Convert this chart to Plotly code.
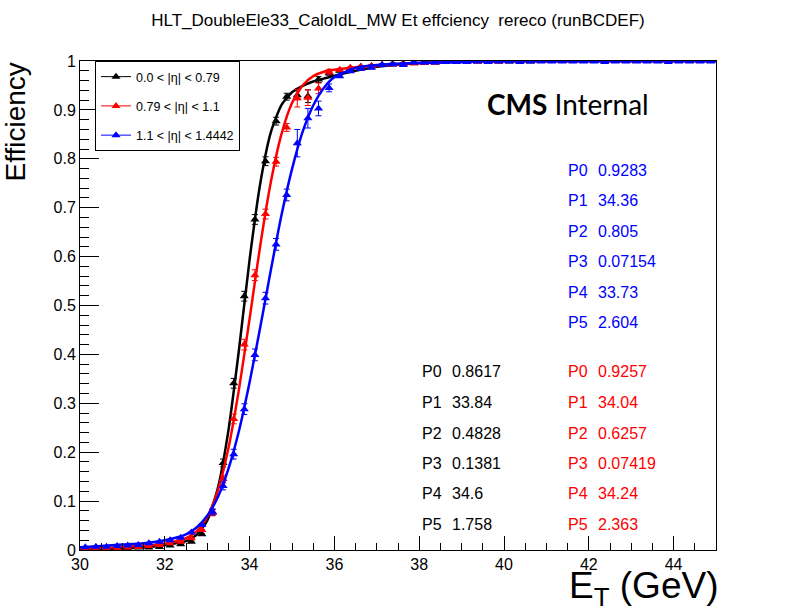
import plotly.graph_objects as go

# ---- data ----
et_bins = [30.125, 30.375, 30.625, 30.875, 31.125, 31.375, 31.625, 31.875,
           32.125, 32.375, 32.625, 32.875, 33.125, 33.375, 33.625, 33.875,
           34.125, 34.375, 34.625, 34.875, 35.125, 35.375, 35.625, 35.875,
           36.125, 36.375, 36.625, 36.875, 37.125, 37.375, 37.625, 37.875,
           38.125, 38.375, 38.625, 38.875, 39.125, 39.375, 39.625, 39.875,
           40.125, 40.375, 40.625, 40.875, 41.125, 41.375, 41.625, 41.875,
           42.125, 42.375, 42.625, 42.875, 43.125, 43.375, 43.625, 43.875,
           44.125, 44.375, 44.625, 44.875]

eff_barrel = [0.000, 0.000, 0.0014, 0.002, 0.0035, 0.005, 0.005, 0.006, 0.009, 0.012, 0.017, 0.032,
              0.077, 0.178, 0.341, 0.519, 0.676, 0.795, 0.877, 0.927, 0.930, 0.928, 0.962, 0.975,
              0.980, 0.985, 0.988, 0.990, 0.992, 0.994, 0.995, 0.996, 0.997, 0.997, 0.998, 0.998,
              0.999, 0.999, 0.999, 0.999, 0.999, 1.0, 0.999, 1.0, 1.0, 1.0, 1.0, 1.0,
              1.0, 1.0, 1.0, 1.0, 1.0, 1.0, 1.0, 1.0, 1.0, 1.0, 1.0, 1.0]
err_barrel = [0.001] * 12 + [0.006, 0.008, 0.010, 0.010, 0.010, 0.009, 0.008, 0.007, 0.009, 0.013, 0.006, 0.004] + [0.002] * 36

eff_mid = [0.0014, 0.0014, 0.0035, 0.0035, 0.005, 0.006, 0.008, 0.010, 0.014, 0.017, 0.024, 0.041,
           0.076, 0.145, 0.268, 0.420, 0.562, 0.687, 0.794, 0.864, 0.924, 0.925, 0.944, 0.978,
           0.982, 0.986, 0.988, 0.990, 0.992, 0.993, 0.994, 0.995, 0.996, 0.997, 0.998, 0.998,
           0.999, 0.999, 0.999, 0.999, 1.0, 0.999, 1.0, 1.0, 1.0, 1.0, 1.0, 1.0,
           1.0, 1.0, 1.0, 1.0, 1.0, 1.0, 1.0, 1.0, 1.0, 1.0, 1.0, 1.0]
err_mid = [0.001] * 12 + [0.006, 0.008, 0.010, 0.011, 0.011, 0.010, 0.009, 0.008, 0.018, 0.016, 0.011, 0.005] + [0.002] * 36

eff_outer = [0.0055, 0.0067, 0.0067, 0.008, 0.009, 0.010, 0.014, 0.017, 0.020, 0.025, 0.036, 0.051,
             0.078, 0.131, 0.196, 0.288, 0.399, 0.515, 0.625, 0.726, 0.832, 0.883, 0.903, 0.945,
             0.969, 0.979, 0.984, 0.986, 0.992, 0.993, 0.992, 0.997, 0.997, 0.997, 0.998, 0.998,
             0.998, 0.999, 0.998, 0.999, 0.999, 0.998, 0.999, 0.999, 0.999, 0.999, 0.999, 0.999,
             0.999, 0.998, 0.999, 0.999, 0.999, 0.999, 0.999, 0.998, 0.999, 0.999, 0.999, 0.999]
err_outer = [0.001] * 12 + [0.006, 0.008, 0.010, 0.011, 0.012, 0.012, 0.012, 0.012, 0.028, 0.020, 0.015, 0.008] + [0.002] * 36

# fitted turn-on curves, read at these E_T values
fit_et = [30, 30.5, 31, 31.5, 32, 32.5, 32.75, 33, 33.25, 33.5, 33.75, 34, 34.25, 34.5,
          34.75, 35, 35.25, 35.5, 35.75, 36, 36.5, 37, 37.5, 38, 39, 40, 42, 45]
fit_barrel = [0.001, 0.0014, 0.003, 0.005, 0.010, 0.018, 0.031, 0.060, 0.126, 0.244, 0.410, 0.594,
              0.749, 0.854, 0.910, 0.936, 0.949, 0.958, 0.964, 0.970, 0.980, 0.988, 0.993, 0.996,
              0.999, 0.9997, 0.9998, 0.9998]
fit_mid = [0.003, 0.004, 0.006, 0.009, 0.013, 0.024, 0.038, 0.067, 0.121, 0.208, 0.329, 0.473,
           0.622, 0.752, 0.850, 0.914, 0.950, 0.969, 0.978, 0.982, 0.987, 0.991, 0.9937, 0.9957,
           0.9983, 0.9993, 0.9998, 0.9999]
fit_outer = [0.0055, 0.008, 0.011, 0.014, 0.020, 0.032, 0.046, 0.070, 0.108, 0.166, 0.244, 0.343,
             0.455, 0.572, 0.684, 0.779, 0.855, 0.909, 0.945, 0.967, 0.986, 0.992, 0.9945, 0.996,
             0.998, 0.9993, 0.9997, 0.9998]

labels = ["0.0 < |\u03b7| < 0.79", "0.79 < |\u03b7| < 1.1", "1.1 < |\u03b7| < 1.4442"]
colors = ["#000000", "#ff0000", "#0000ff"]

par_names = ["P0", "P1", "P2", "P3", "P4", "P5"]
par_barrel = ["0.8617", "33.84", "0.4828", "0.1381", "34.6", "1.758"]
par_mid = ["0.9257", "34.04", "0.6257", "0.07419", "34.24", "2.363"]
par_outer = ["0.9283", "34.36", "0.805", "0.07154", "33.73", "2.604"]


# pixel -> paper helpers (plot frame is 80..716 x 61..550)
def px(x):
    return (x - 80) / 636.0


def py(y):
    return (550 - y) / 489.0


fig = go.Figure()

series = [(eff_barrel, err_barrel, fit_barrel),
          (eff_mid, err_mid, fit_mid),
          (eff_outer, err_outer, fit_outer)]

for i, (eff, err, fit) in enumerate(series):
    fig.add_trace(go.Scatter(
        x=et_bins, y=eff, mode="markers",
        marker=dict(symbol="triangle-up", size=8, color=colors[i]),
        error_y=dict(type="data", array=err, color=colors[i], thickness=1, width=3),
        showlegend=False, cliponaxis=True))
    fig.add_trace(go.Scatter(
        x=fit_et, y=fit, mode="lines",
        line=dict(color=colors[i], width=2.5, shape="spline", smoothing=0.6),
        showlegend=False, hoverinfo="skip"))

# legend entries
for i in range(3):
    fig.add_trace(go.Scatter(
        x=[None], y=[None], mode="lines+markers", name=labels[i],
        legendgroup="g%d" % i,
        line=dict(color=colors[i], width=1),
        marker=dict(symbol="triangle-up", size=8, color=colors[i])))

annotations = []
# fit parameter boxes
rows_top = [170, 200, 231, 261, 292, 322]
rows_bot = [371, 402, 433, 463, 493, 524]
for k in range(6):
    for name_x, val_x, y, val, col in [(420, 450, rows_bot[k], par_barrel[k], colors[0]),
                                        (566, 596, rows_bot[k], par_mid[k], colors[1]),
                                        (566, 596, rows_top[k], par_outer[k], colors[2])]:
        annotations.append(dict(x=px(name_x), y=py(y), xref="paper", yref="paper",
                                text=par_names[k], showarrow=False, xanchor="left", yanchor="middle",
                                font=dict(family="Liberation Sans", size=16, color=col)))
        annotations.append(dict(x=px(val_x), y=py(y), xref="paper", yref="paper",
                                text=val, showarrow=False, xanchor="left", yanchor="middle",
                                font=dict(family="Liberation Sans", size=16, color=col)))

annotations.append(dict(x=px(485), y=py(104), xref="paper", yref="paper",
                        text="<b>CMS</b> Internal", showarrow=False,
                        xanchor="left", yanchor="middle",
                        font=dict(family="Lato", size=28, color="black")))
annotations.append(dict(x=px(720), y=py(588), xref="paper", yref="paper",
                        text="E<sub>T</sub> (GeV)", showarrow=False,
                        xanchor="right", yanchor="middle",
                        font=dict(family="Liberation Sans", size=37, color="black")))
annotations.append(dict(x=px(15), y=1.0, xref="paper", yref="paper",
                        text="Efficiency", showarrow=False, textangle=-90,
                        xanchor="center", yanchor="top",
                        font=dict(family="Liberation Sans", size=28, color="black")))

fig.update_layout(
    width=796, height=612,
    margin=dict(l=80, r=80, t=61, b=62),
    paper_bgcolor="white", plot_bgcolor="white",
    title=dict(text="HLT_DoubleEle33_CaloIdL_MW Et effciency \u00a0rereco (runBCDEF)",
               x=0.5, xanchor="center", y=1 - 20 / 612.0, yanchor="middle",
               font=dict(family="Liberation Sans", size=17, color="black")),
    font=dict(family="Liberation Sans", color="black"),
    annotations=annotations,
    legend=dict(x=px(95), y=1.0, xanchor="left", yanchor="top",
                bordercolor="black", borderwidth=1, bgcolor="white",
                font=dict(family="Liberation Sans", size=12.5, color="black"),
                tracegroupgap=10),
)

fig.update_xaxes(range=[30, 45], dtick=2, tick0=30, showgrid=False, zeroline=False,
                 showline=True, linecolor="black", linewidth=1, mirror=True,
                 ticks="inside", ticklen=14, tickcolor="black",
                 minor=dict(dtick=0.5, ticks="inside", ticklen=7, tickcolor="black"),
                 tickfont=dict(family="Liberation Sans", size=16, color="black"))
fig.update_yaxes(range=[0, 1], dtick=0.1, showgrid=False, zeroline=False,
                 showline=True, linecolor="black", linewidth=1, mirror=True,
                 ticks="inside", ticklen=19, tickcolor="black",
                 minor=dict(dtick=0.02, ticks="inside", ticklen=9, tickcolor="black"),
                 tickfont=dict(family="Liberation Sans", size=16, color="black"))

# drop the default 8px page margin so the figure sits at the window corner
fig.write_html("out.html", config={"displayModeBar": False},
               post_script="document.body.style.margin='0';")
